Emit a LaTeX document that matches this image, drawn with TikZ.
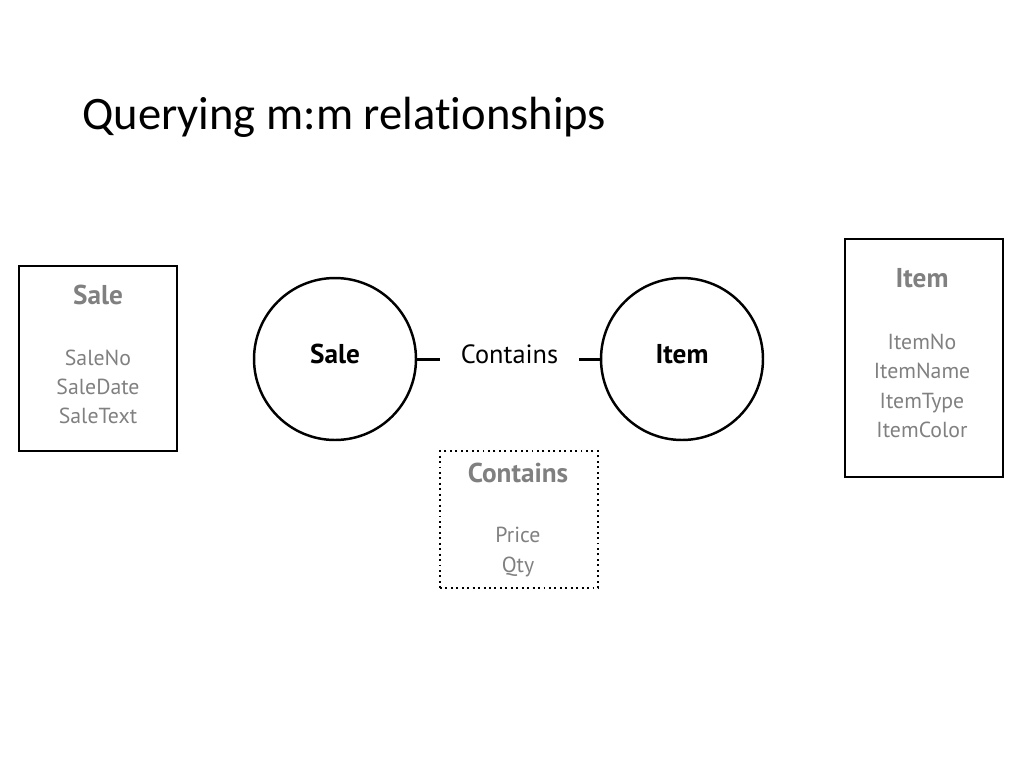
\documentclass[tikz,border=0pt]{standalone}
\usepackage{fontspec}
\setmainfont[Ligatures=NoCommon]{Carlito}
\newfontfamily\diagfont{PT Sans}
\usetikzlibrary{positioning}
\definecolor{attrgray}{gray}{0.5}
\tikzset{
  entbox/.style = {rectangle, draw, line width=1.1pt, minimum width=3.16cm},
  relbox/.style = {rectangle, draw, line width=1.1pt, dotted, minimum width=3.16cm, minimum height=2.74cm},
  entity/.style = {circle, draw, line width=1.4pt, minimum size=3.24cm, font=\diagfont\bfseries\fontsize{15.5}{18}\selectfont},
  boxtitle/.style = {text=attrgray, font=\diagfont\bfseries\fontsize{15.5}{18}\selectfont},
  attrs/.style = {text=attrgray, align=center, font=\diagfont\fontsize{12.4}{16.7}\selectfont},
  link/.style = {draw, line width=1.7pt}
}
\begin{document}
\begin{tikzpicture}[x=0.02cm, y=-0.02cm]
    \useasboundingbox (0,0) rectangle (1024,768);
    \node [anchor=base west, font=\fontsize{26.5}{32}\selectfont, inner sep=0pt] (title) at (82,129) {Querying m:m relationships};

    % entity boxes
    \node [entbox, minimum height=3.70cm] (salebox) at (98,358.5) {};
    \node [boxtitle] (saletitle) at (98,295) {Sale};
    \node [attrs] (saleattrs) at (98,387) {SaleNo\\SaleDate\\SaleText};

    \node [entbox, minimum height=4.76cm] (itembox) at (924,358) {};
    \node [boxtitle] (itemtitle) at (922,278) {Item};
    \node [attrs] (itemattrs) at (922,386) {ItemNo\\ItemName\\ItemType\\ItemColor};

    % relationship diagram
    \node [entity] (sale) at (335,359) {\raisebox{6pt}{Sale}};
    \node [entity] (item) at (682,359) {\raisebox{6pt}{Item}};
    \node [minimum width=2.78cm, inner sep=0pt, font=\diagfont\fontsize{15}{18}\selectfont] (contains) at (509.5,354) {Contains};
    \path [link] (sale.east) -- (sale.east -| contains.west);
    \path [link] (item.west) -- (item.west -| contains.east);

    \node [relbox] (relbox) at (519,519.5) {};
    \node [boxtitle] (reltitle) at (518,473) {Contains};
    \node [attrs] (relattrs) at (518,552) {Price\\Qty};
\end{tikzpicture}
\end{document}
